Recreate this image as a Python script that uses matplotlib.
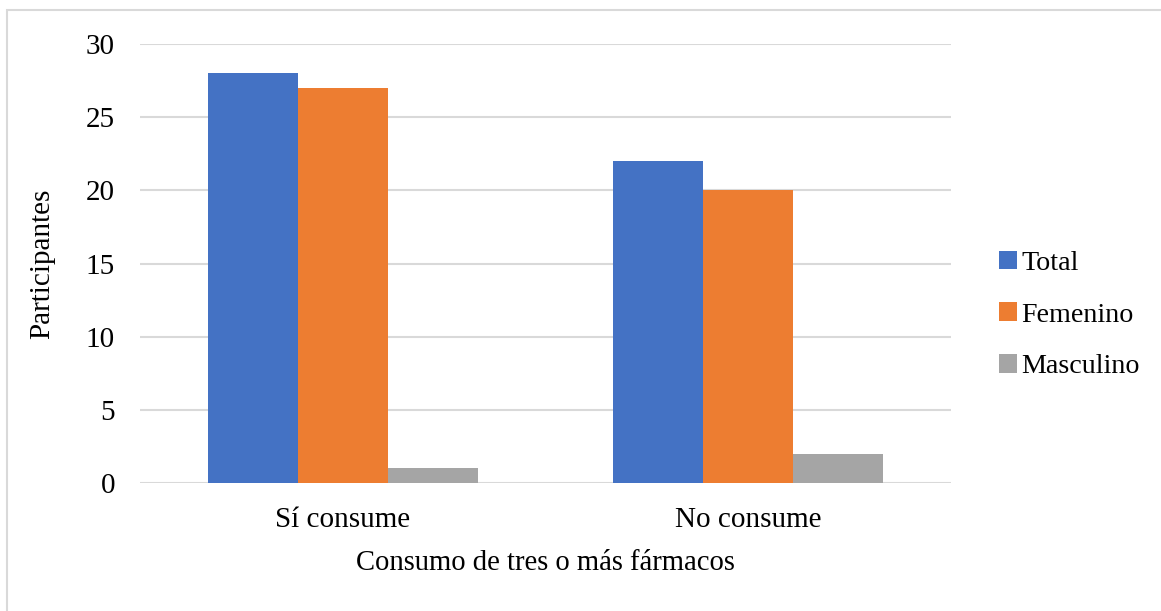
import matplotlib.pyplot as plt
import numpy as np
from matplotlib.patches import Rectangle

plt.rcParams["font.family"] = ["Liberation Serif", "DejaVu Serif"]

categories = ["Sí consume", "No consume"]
series_names = ["Total", "Femenino", "Masculino"]
total = [28, 22]
femenino = [27, 20]
masculino = [1, 2]
colors = ["#4472C4", "#ED7D31", "#A5A5A5"]

W, H = 1161, 611


def main():
    fig = plt.figure(figsize=(W / 100, H / 100), dpi=100)
    # plot area in pixel coordinates
    left, right, top, bottom = 140, 951, 44, 483
    ax = fig.add_axes([left / W, 1 - bottom / H, (right - left) / W, (bottom - top) / H])

    x = np.arange(len(categories))
    width = 0.222
    for i, (vals, name) in enumerate(zip([total, femenino, masculino], series_names)):
        ax.bar(x + (i - 1) * width, vals, width, color=colors[i], label=name, zorder=3)

    ax.set_xlim(-0.5, 1.5)
    ax.set_ylim(0, 30)
    ax.set_yticks(range(0, 31, 5))
    ax.set_xticks(x)
    ax.set_xticklabels(categories)
    ax.tick_params(axis="both", length=0, labelsize=21)
    ax.tick_params(axis="y", pad=18)
    ax.tick_params(axis="x", pad=17)
    ax.grid(axis="y", color="#D9D9D9", linewidth=1.5, zorder=0)
    for s in ax.spines.values():
        s.set_visible(False)

    ax.set_ylabel("Participantes", fontsize=21, va="center")
    ax.yaxis.set_label_coords(-0.121, 0.5)
    ax.set_xlabel("Consumo de tres o más fármacos", fontsize=20.6, va="center")
    ax.xaxis.set_label_coords(0.5, -0.182)

    ax.legend(loc="center left", bbox_to_anchor=(999 / W, 1 - 315 / H),
              bbox_transform=fig.transFigure, frameon=False, fontsize=20.2,
              handlelength=0.65, handleheight=0.65, handletextpad=0.15,
              labelspacing=0.95, borderaxespad=0, borderpad=0)

    # outer chart border
    fig.patches.append(Rectangle((7 / W, -0.01), 1.2, 1 - 9.5 / H + 0.01,
                                 transform=fig.transFigure, fill=False,
                                 edgecolor="#D9D9D9", linewidth=1.5))

    fig.savefig("out.png", dpi=100)


if __name__ == "__main__":
    main()
